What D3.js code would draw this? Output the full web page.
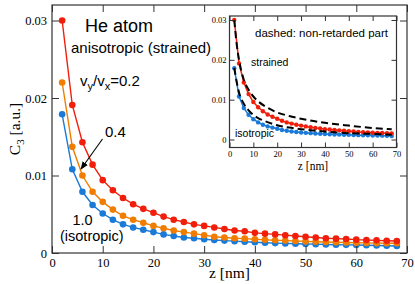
<!DOCTYPE html>
<html>
<head>
<meta charset="utf-8">
<script src="https://cdn.jsdelivr.net/npm/d3@7"></script>
<style>
  body { margin: 0; background: #fff; }
</style>
</head>
<body>
<div id="chart"></div>
<script>
// distance z [nm], every 2 nm
let zValues = d3.range(2, 70, 2);

// C3 [a.u.], anisotropic v_y/v_x = 0.2 (red)
let c3Strained02 = [0.0300, 0.0191, 0.0143, 0.0114, 0.0094, 0.0081, 0.0071, 0.0063, 0.0057, 0.0052,
    0.0047, 0.0043, 0.0040, 0.0037, 0.0035, 0.0033, 0.0031, 0.0029, 0.0028, 0.0026,
    0.0025, 0.0024, 0.0023, 0.0022, 0.0021, 0.0020, 0.0019, 0.00185, 0.0018, 0.00172,
    0.00168, 0.00163, 0.00158, 0.00155];

// v_y/v_x = 0.4 (orange)
let c3Strained04 = [0.0220, 0.0137, 0.0100, 0.0079, 0.0066, 0.0056, 0.0048, 0.0043, 0.0039, 0.0035,
    0.0032, 0.0029, 0.0027, 0.0025, 0.0023, 0.0021, 0.0020, 0.0019, 0.00185, 0.00177,
    0.0017, 0.00165, 0.0016, 0.00155, 0.0015, 0.00146, 0.00142, 0.00139, 0.00136, 0.00133,
    0.0013, 0.00128, 0.00126, 0.00125];

// v_y/v_x = 1.0, isotropic (blue)
let c3Isotropic = [0.0179, 0.0108, 0.0079, 0.0062, 0.0051, 0.0043, 0.0037, 0.0033, 0.0030, 0.0027,
    0.0024, 0.0022, 0.0020, 0.0019, 0.00177, 0.00168, 0.0016, 0.00153, 0.00145, 0.00138,
    0.00133, 0.00128, 0.00124, 0.0012, 0.00117, 0.00114, 0.0011, 0.00107, 0.00105, 0.00103,
    0.001, 0.00097, 0.00093, 0.0009];

// inset: non-retarded part (dashed)
let zDashed = [2, 3, 4, 6, 8, 10, 12, 15, 20, 25, 30, 40, 50, 60, 68];
let dashedStrained = [0.0300, 0.0240, 0.0200, 0.0150, 0.0125, 0.0108, 0.0096, 0.0083, 0.0068, 0.0059,
    0.0052, 0.0042, 0.0035, 0.0029, 0.0026];
let dashedIsotropic = [0.0180, 0.0145, 0.0118, 0.0090, 0.0073, 0.0062, 0.0054, 0.0046, 0.0036, 0.0030,
    0.0026, 0.0020, 0.0016, 0.0014, 0.0012];

let xTicks = [0, 10, 20, 30, 40, 50, 60, 70];
let yTicks = [0, 0.01, 0.02, 0.03];

let red = "#f01e0a", orange = "#f07d00", blue = "#1a7ad8";
let serif = "'Liberation Serif', 'DejaVu Serif', serif";
let sans = "'Liberation Sans', Arial, sans-serif";

let width = 415, height = 284;

let svg = d3.select("#chart").append("svg")
    .attr("width", width)
    .attr("height", height);

function frame(g, x, y, tickLen, fontSize, pad) {
    let [x0, x1] = x.range(), [y0, y1] = y.range();
    g.append("rect")
        .attr("x", x0).attr("y", y1)
        .attr("width", x1 - x0).attr("height", y0 - y1)
        .attr("fill", "#fff").attr("stroke", "none");
    return function drawAxes() {
        // bottom / top
        g.append("g").attr("transform", "translate(0," + y0 + ")")
            .call(d3.axisBottom(x).tickValues(xTicks).tickSize(-tickLen).tickPadding(pad).tickFormat(d3.format("d")))
            .call(a => a.select(".domain").remove());
        g.append("g").attr("transform", "translate(0," + y1 + ")")
            .call(d3.axisTop(x).tickValues(xTicks).tickSize(-tickLen).tickFormat(""))
            .call(a => a.select(".domain").remove());
        // left / right
        g.append("g").attr("transform", "translate(" + x0 + ",0)")
            .call(d3.axisLeft(y).tickValues(yTicks).tickSize(-tickLen).tickPadding(pad).tickFormat(fmtY))
            .call(a => a.select(".domain").remove());
        g.append("g").attr("transform", "translate(" + x1 + ",0)")
            .call(d3.axisRight(y).tickValues(yTicks).tickSize(-tickLen).tickFormat(""))
            .call(a => a.select(".domain").remove());
        g.selectAll(".tick text")
            .style("font-family", serif)
            .style("font-size", fontSize + "px")
            .attr("fill", "#000");
        g.selectAll(".tick line").attr("stroke", "#333");
        g.append("rect")
            .attr("x", x0).attr("y", y1)
            .attr("width", x1 - x0).attr("height", y0 - y1)
            .attr("fill", "none").attr("stroke", "#333").attr("stroke-width", 1.2);
    };
}

function fmtY(d) { return d === 0 ? "0" : d3.format(".2f")(d); }

function series(g, x, y, values, color, r, lw) {
    let pts = zValues.map((z, i) => [z, values[i]]);
    g.append("path")
        .datum(pts)
        .attr("fill", "none")
        .attr("stroke", color)
        .attr("stroke-width", lw)
        .attr("d", d3.line().x(d => x(d[0])).y(d => y(d[1])));
    g.append("g").selectAll("circle")
        .data(pts)
        .join("circle")
        .attr("cx", d => x(d[0]))
        .attr("cy", d => y(d[1]))
        .attr("r", r)
        .attr("fill", color);
}

function label(g, px, py, size, font, txt) {
    return g.append("text")
        .attr("x", px).attr("y", py)
        .style("font-family", font)
        .style("font-size", size + "px")
        .text(txt);
}

// ---------- main plot ----------
let x = d3.scaleLinear().domain([0, 70]).range([52, 407]);
let y = d3.scaleLinear().domain([0, 0.032]).range([253, 5]);

let main = svg.append("g");
let mainAxes = frame(main, x, y, 7, 12.5, 5);

series(main, x, y, c3Isotropic, blue, 3.3, 1.4);
series(main, x, y, c3Strained04, orange, 3.3, 1.4);
series(main, x, y, c3Strained02, red, 3.3, 1.4);
mainAxes();

label(main, x(35), 278, 15.5, serif, "z [nm]").attr("text-anchor", "middle");

let yLab = main.append("text")
    .attr("transform", "translate(20,129) rotate(-90)")
    .attr("text-anchor", "middle")
    .style("font-family", serif).style("font-size", "15.5px");
yLab.append("tspan").text("C");
yLab.append("tspan").attr("dy", 4).style("font-size", "11px").text("3");
yLab.append("tspan").attr("dy", -4).text(" [a.u.]");

label(main, 85, 32, 18, sans, "He atom");
label(main, 71, 53, 15, sans, "anisotropic (strained)");

let ratio = label(main, 80, 86, 15, sans, "");
ratio.append("tspan").text("v");
ratio.append("tspan").attr("dy", 4).style("font-size", "11px").text("y");
ratio.append("tspan").attr("dy", -4).text("/v");
ratio.append("tspan").attr("dy", 4).style("font-size", "11px").text("x");
ratio.append("tspan").attr("dy", -4).text("=0.2");

label(main, 105, 137, 15, sans, "0.4");
label(main, 72.5, 225, 14.5, sans, "1.0");
label(main, 60, 241, 14.5, sans, "(isotropic)");

svg.append("defs").append("marker")
    .attr("id", "arrow")
    .attr("viewBox", "0 0 10 10")
    .attr("refX", 9).attr("refY", 5)
    .attr("markerWidth", 8).attr("markerHeight", 8)
    .attr("markerUnits", "userSpaceOnUse")
    .attr("orient", "auto")
    .append("path").attr("d", "M0,1 L10,5 L0,9 Z").attr("fill", "#000");

main.append("line")
    .attr("x1", 102.5).attr("y1", 139)
    .attr("x2", 81).attr("y2", 169)
    .attr("stroke", "#000").attr("stroke-width", 1.1)
    .attr("marker-end", "url(#arrow)");

// ---------- inset ----------
let xi = d3.scaleLinear().domain([0, 70]).range([229.5, 396.5]);
let yi = d3.scaleLinear().domain([-0.002, 0.031]).range([147.5, 16]);

let inset = svg.append("g");
let insetAxes = frame(inset, xi, yi, 5, 8.5, 3);

series(inset, xi, yi, c3Isotropic, blue, 2.2, 1.5);
series(inset, xi, yi, c3Strained02, red, 2.2, 1.5);

[dashedStrained, dashedIsotropic].forEach(vals => {
    inset.append("path")
        .datum(zDashed.map((z, i) => [z, vals[i]]))
        .attr("fill", "none")
        .attr("stroke", "#000")
        .attr("stroke-width", 2)
        .attr("stroke-dasharray", "7,4")
        .attr("d", d3.line().curve(d3.curveMonotoneX).x(d => xi(d[0])).y(d => yi(d[1])));
});
insetAxes();

label(inset, xi(35), 170, 11.5, serif, "z [nm]").attr("text-anchor", "middle");
label(inset, 255, 37, 11.5, sans, "dashed: non-retarded part");
label(inset, 251, 66, 10.5, sans, "strained");
label(inset, 235, 137, 10.5, sans, "isotropic");
</script>
</body>
</html>
